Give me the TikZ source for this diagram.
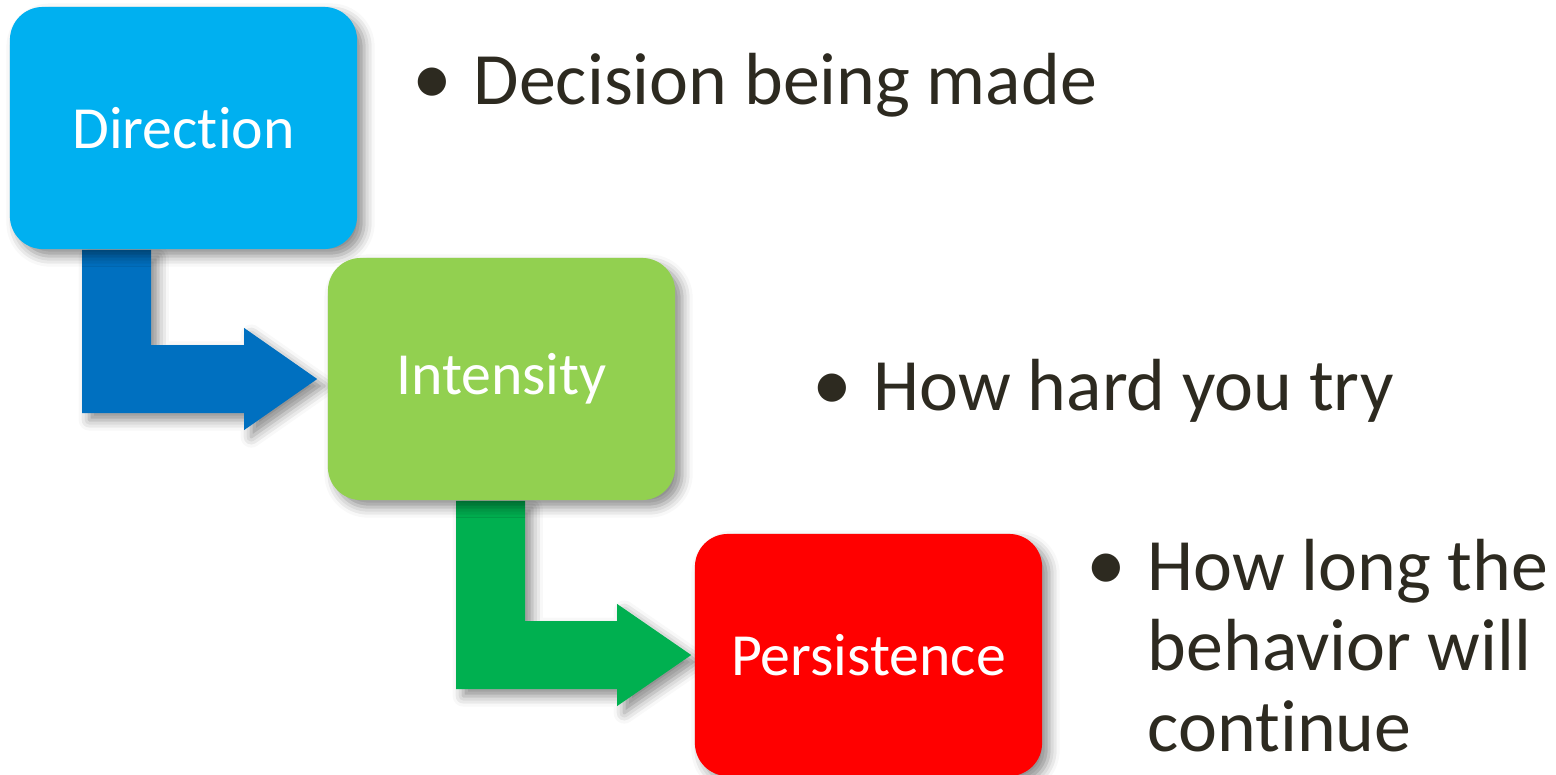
\documentclass[tikz,border=0pt]{standalone}
\usepackage{fontspec}
\setmainfont{Carlito}[Ligatures={NoCommon,NoContextual,NoRare}]
\usetikzlibrary{calc,backgrounds,shadows.blur}

\definecolor{dirblue}{HTML}{00B0F0}
\definecolor{intgreen}{HTML}{92D050}
\definecolor{persred}{HTML}{FF0000}
\definecolor{arrowblue}{HTML}{0070C0}
\definecolor{arrowgreen}{HTML}{00B050}
\definecolor{itemtext}{RGB}{45,42,32}

\newcommand{\bul}{\makebox[0.55cm][l]{\hspace*{-0.06cm}\scalebox{1.08}{•}}}

\tikzset{
  stagebox/.style={rounded corners=0.33cm, minimum width=3.47cm, minimum height=2.42cm,
    inner sep=0pt, text=white, font=\fontsize{17}{20}\selectfont,
    blur shadow={shadow xshift=2pt, shadow yshift=-2pt, shadow blur radius=3pt, shadow opacity=45}},
  bentarrow/.style={blur shadow={shadow xshift=2pt, shadow yshift=-2pt, shadow blur radius=3pt, shadow opacity=45}},
  bulletitem/.style={anchor=base west, inner sep=0pt, text=itemtext, font=\fontsize{21}{23}\selectfont}
}

\begin{document}
\begin{tikzpicture}[x=0.01cm, y=-0.01cm]
  \useasboundingbox (0,0) rectangle (1556,775);

  % the three stages
  \node[stagebox, fill=dirblue]  (direction)   at (183.5,128)  {Direction};
  \node[stagebox, fill=intgreen] (intensity)   at (501.5,379)  {Intensity};
  \node[stagebox, fill=persred]  (persistence) at (868.5,655)  {Persistence};

  % what each stage means
  \node[bulletitem] (dirtext)  at (418,104) {\bul Decision being made};
  \node[bulletitem] (inttext)  at (818,410) {\bul How hard you try};
  \node[bulletitem] (perstext) at (1092,590) {%
    \begin{tabular}[t]{@{}l@{}}
      \bul How long the\\
      \hspace*{0.55cm}behavior will\\
      \hspace*{0.55cm}continue
    \end{tabular}};

  % bent arrows between the stages
  \begin{scope}[on background layer]
    \fill[arrowblue, bentarrow] ($(direction.south west)+(73,0)$)
      |- ($(intensity.west)+(-83,34)$) -- ++(0,17)
      -- ($(intensity.west)+(-10,0)$)
      -- ($(intensity.west)+(-83,-51)$) -- ++(0,17)
      -| ($(direction.south west)+(142,0)$) -- cycle;
    \fill[arrowgreen, bentarrow] ($(intensity.south west)+(129,0)$)
      |- ($(persistence.west)+(-77,34)$) -- ++(0,17)
      -- ($(persistence.west)+(-3,0)$)
      -- ($(persistence.west)+(-77,-51)$) -- ++(0,17)
      -| ($(intensity.south west)+(198,0)$) -- cycle;
  \end{scope}
\end{tikzpicture}
\end{document}
